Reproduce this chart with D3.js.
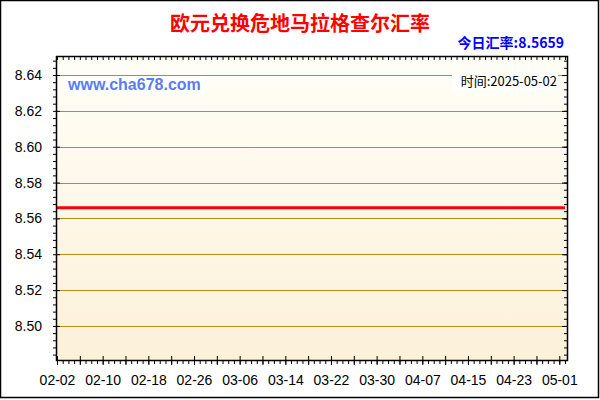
<!DOCTYPE html>
<html lang="zh-CN">
<head>
<meta charset="utf-8">
<title>欧元兑换危地马拉格查尔汇率</title>
<script src="https://d3js.org/d3.v7.min.js"></script>
<style>
  html, body { margin: 0; padding: 0; background: #fff; }
  svg { display: block; }
</style>
</head>
<body>
<div id="chart"></div>
<script>
// 日期 (2025)
const dates = [
  "02-02","02-03","02-04","02-05","02-06","02-07","02-08","02-09","02-10","02-11",
  "02-12","02-13","02-14","02-15","02-16","02-17","02-18","02-19","02-20","02-21",
  "02-22","02-23","02-24","02-25","02-26","02-27","02-28","03-01","03-02","03-03",
  "03-04","03-05","03-06","03-07","03-08","03-09","03-10","03-11","03-12","03-13",
  "03-14","03-15","03-16","03-17","03-18","03-19","03-20","03-21","03-22","03-23",
  "03-24","03-25","03-26","03-27","03-28","03-29","03-30","03-31","04-01","04-02",
  "04-03","04-04","04-05","04-06","04-07","04-08","04-09","04-10","04-11","04-12",
  "04-13","04-14","04-15","04-16","04-17","04-18","04-19","04-20","04-21","04-22",
  "04-23","04-24","04-25","04-26","04-27","04-28","04-29","04-30","05-01","05-02"
];
// 汇率
const rates = [
  8.5659,8.5659,8.5659,8.5659,8.5659,8.5659,8.5659,8.5659,8.5659,8.5659,
  8.5659,8.5659,8.5659,8.5659,8.5659,8.5659,8.5659,8.5659,8.5659,8.5659,
  8.5659,8.5659,8.5659,8.5659,8.5659,8.5659,8.5659,8.5659,8.5659,8.5659,
  8.5659,8.5659,8.5659,8.5659,8.5659,8.5659,8.5659,8.5659,8.5659,8.5659,
  8.5659,8.5659,8.5659,8.5659,8.5659,8.5659,8.5659,8.5659,8.5659,8.5659,
  8.5659,8.5659,8.5659,8.5659,8.5659,8.5659,8.5659,8.5659,8.5659,8.5659,
  8.5659,8.5659,8.5659,8.5659,8.5659,8.5659,8.5659,8.5659,8.5659,8.5659,
  8.5659,8.5659,8.5659,8.5659,8.5659,8.5659,8.5659,8.5659,8.5659,8.5659,
  8.5659,8.5659,8.5659,8.5659,8.5659,8.5659,8.5659,8.5659,8.5659,8.5659
];
const xTickLabels = ["02-02","02-10","02-18","02-26","03-06","03-14","03-22","03-30","04-07","04-15","04-23","05-01"];
const yTickLabels = ["8.50","8.52","8.54","8.56","8.58","8.60","8.62","8.64"];
const titleText = "欧元兑换危地马拉格查尔汇率";
const todayText = "今日汇率:8.5659";
const siteText = "www.cha678.com";
const timeText = "时间:2025-05-02";

const width = 600, height = 400;
const plot = { left: 56, right: 567, top: 56, bottom: 360 };
const parse = d => d3.timeParse("%Y-%m-%d")("2025-" + d);

const data = dates.map((d, i) => ({ date: parse(d), value: rates[i] }));

const x = d3.scaleTime()
  .domain([parse(dates[0]), parse(dates[dates.length - 1])])
  .range([57, 565]);
const y = d3.scaleLinear()
  .domain([8.481, 8.6506])
  .range([plot.bottom, plot.top]);

const svg = d3.select("#chart").append("svg")
  .attr("width", width)
  .attr("height", height);

// 背景渐变
const grad = svg.append("defs").append("linearGradient")
  .attr("id", "bg").attr("x1", 0).attr("y1", 0).attr("x2", 0).attr("y2", 1);
grad.append("stop").attr("offset", "0%").attr("stop-color", "#fffef7");
grad.append("stop").attr("offset", "100%").attr("stop-color", "#fcf1d9");

svg.append("rect")
  .attr("x", plot.left).attr("y", plot.top)
  .attr("width", plot.right - plot.left).attr("height", plot.bottom - plot.top)
  .attr("fill", "url(#bg)");

// 网格
svg.append("g")
  .selectAll("line")
  .data(yTickLabels)
  .join("line")
  .attr("x1", plot.left).attr("x2", plot.right)
  .attr("y1", d => Math.round(y(+d)) + 0.5)
  .attr("y2", d => Math.round(y(+d)) + 0.5)
  .attr("stroke", "#c08c10")
  .attr("stroke-width", 1);

// 汇率线
svg.append("path")
  .datum(data)
  .attr("fill", "none")
  .attr("stroke", "#ff0000")
  .attr("stroke-width", 3)
  .attr("d", d3.line().x(d => x(d.date)).y(d => y(d.value)));

// 坐标轴
const days = d3.timeDay.range(x.domain()[0], d3.timeDay.offset(x.domain()[1], 1));
const majorDays = days.filter((d, i) => i % 4 === 0);
const yMinor = d3.range(8.484, 8.6506, 0.004);

const axStyle = g => g.call(s => s.select(".domain").remove())
  .attr("font-family", "'Liberation Sans', Arial, sans-serif")
  .attr("font-size", 14);

// 下
svg.append("g")
  .attr("transform", `translate(0,${plot.bottom})`)
  .call(d3.axisBottom(x).tickValues(days).tickSize(4).tickFormat(""))
  .call(axStyle);
svg.append("g")
  .attr("transform", `translate(0,${plot.bottom})`)
  .call(d3.axisBottom(x).tickValues(majorDays).tickSize(5).tickFormat(""))
  .call(axStyle)
  .selectAll(".tick line").attr("y1", -4);
svg.append("g")
  .attr("transform", `translate(0,${plot.bottom})`)
  .call(d3.axisBottom(x).tickValues(xTickLabels.map(parse)).tickSize(0).tickPadding(15)
    .tickFormat(d3.timeFormat("%m-%d")))
  .call(axStyle)
  .selectAll("text").attr("fill", "#000");

// 上
svg.append("g")
  .attr("transform", `translate(0,${plot.top})`)
  .call(d3.axisBottom(x).tickValues(days).tickSize(4).tickFormat(""))
  .call(axStyle);

// 左
svg.append("g")
  .attr("transform", `translate(${plot.left},0)`)
  .call(d3.axisLeft(y).tickValues(yMinor).tickSize(3).tickFormat(""))
  .call(axStyle);
svg.append("g")
  .attr("transform", `translate(${plot.left},0)`)
  .call(d3.axisLeft(y).tickValues(yTickLabels.map(Number)).tickSize(6).tickPadding(8)
    .tickFormat(d3.format(".2f")))
  .call(axStyle)
  .call(g => g.selectAll(".tick line").attr("x2", 4))
  .call(g => g.selectAll("text").attr("fill", "#000"));

// 右
svg.append("g")
  .attr("transform", `translate(${plot.right},0)`)
  .call(d3.axisLeft(y).tickValues(yMinor).tickSize(3).tickFormat(""))
  .call(axStyle);
svg.append("g")
  .attr("transform", `translate(${plot.right},0)`)
  .call(d3.axisLeft(y).tickValues(yTickLabels.map(Number)).tickSize(5).tickFormat(""))
  .call(axStyle);

// 边框线
svg.append("path")
  .attr("d", `M${plot.left + 0.5},${plot.top} V${plot.bottom + 0.5} H${plot.right + 0.5} V${plot.top + 0.5} H${plot.left}`)
  .attr("fill", "none")
  .attr("stroke", "#000")
  .attr("stroke-width", 1.5);

// 外框
svg.append("rect")
  .attr("x", 0.5).attr("y", 0.5).attr("width", 598).attr("height", 397)
  .attr("fill", "none").attr("stroke", "#000").attr("stroke-width", 1.5);

// 标题
svg.append("text")
  .attr("x", 300).attr("y", 31)
  .attr("text-anchor", "middle")
  .attr("font-family", "'Noto Sans CJK SC', sans-serif")
  .attr("font-weight", "bold")
  .attr("font-size", 20)
  .attr("fill", "#ff0000")
  .text(titleText);

svg.append("text")
  .attr("x", 564).attr("y", 48)
  .attr("text-anchor", "end")
  .attr("font-family", "'Noto Sans CJK SC', sans-serif")
  .attr("font-weight", "bold")
  .attr("font-size", 14)
  .attr("fill", "#0000ff")
  .text(todayText);

// 水印
svg.append("rect")
  .attr("x", 65).attr("y", 77).attr("width", 140).attr("height", 17)
  .attr("fill", "#fff");
svg.append("text")
  .attr("x", 68).attr("y", 90)
  .attr("font-family", "'Liberation Sans', Arial, sans-serif")
  .attr("font-weight", "bold")
  .attr("font-size", 16)
  .attr("fill", "#5b7cf2")
  .text(siteText);

svg.append("rect")
  .attr("x", 452).attr("y", 74).attr("width", 106).attr("height", 17)
  .attr("fill", "#fff");
svg.append("text")
  .attr("x", 557).attr("y", 86)
  .attr("text-anchor", "end")
  .attr("font-family", "'Noto Sans CJK SC', sans-serif")
  .attr("font-size", 13)
  .attr("fill", "#000")
  .text(timeText);
</script>
</body>
</html>
